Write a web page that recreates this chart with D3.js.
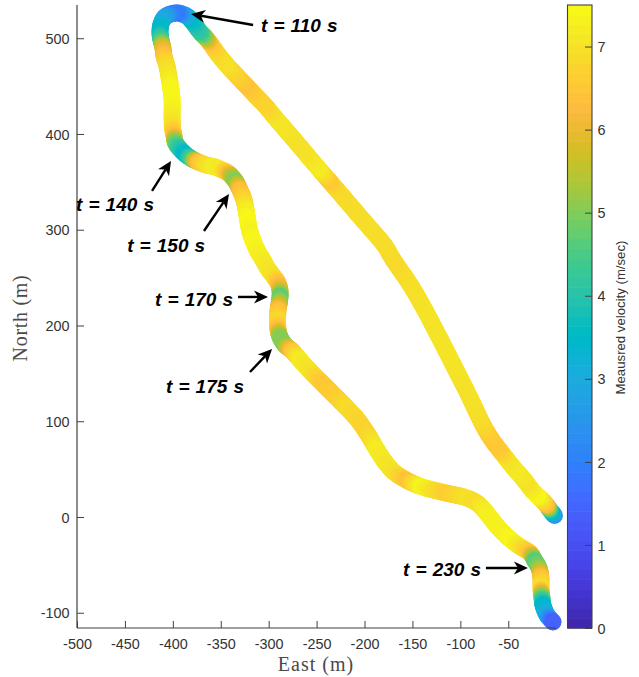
<!DOCTYPE html>
<html><head><meta charset="utf-8">
<script src="https://cdn.jsdelivr.net/npm/d3@7"></script>
<style>html,body{margin:0;padding:0;background:#fff}svg{display:block}</style>
</head><body><svg id="c" width="639" height="677"></svg>
<script>
const east=[-1.8,-6.5,-9.9,-15.9,-20.3,-26.3,-30.8,-37.8,-45.1,-53.4,-60.7,-67.0,-72.5,-76.9,-80.5,-89.9,-100.4,-111.8,-123.3,-134.8,-147.3,-157.7,-170.3,-178.6,-199.5,-218.3,-230.8,-238.1,-248.5,-265.2,-277.7,-293.4,-303.8,-314.3,-324.7,-335.1,-345.5,-353.9,-361.2,-366.4,-371.6,-376.9,-384.2,-390.4,-395.7,-401.9,-408.2,-412.4,-413.4,-412.4,-410.3,-409.2,-406.1,-404.0,-401.9,-400.8,-400.8,-400.3,-398.7,-397.2,-392.5,-386.2,-380.0,-373.7,-365.4,-356.0,-348.7,-342.4,-337.2,-334.1,-329.9,-325.7,-323.6,-321.6,-319.5,-315.3,-311.1,-305.9,-300.7,-294.4,-290.2,-288.2,-288.2,-289.2,-290.2,-290.8,-290.2,-288.2,-283.0,-275.6,-267.3,-254.8,-243.3,-228.7,-218.3,-207.8,-197.4,-186.9,-178.6,-168.2,-154.6,-140.0,-128.5,-112.9,-93.1,-82.6,-74.3,-68.0,-61.8,-53.4,-45.1,-35.7,-27.3,-22.1,-17.9,-15.9,-15.9,-14.8,-13.8,-9.6,-3.3];
const north=[1.6,7.3,12.5,18.8,23.0,29.2,35.5,43.9,52.2,62.7,72.1,80.4,89.1,97.1,104.4,124.3,145.2,167.6,190.1,212.0,234.5,250.7,268.9,283.0,307.6,329.5,344.1,352.5,364.5,384.3,399.0,417.2,429.8,440.7,451.7,462.7,474.1,484.6,495.0,501.3,506.5,513.8,522.2,525.3,526.4,525.3,522.2,514.9,505.5,498.2,489.8,481.5,471.0,459.5,446.0,435.5,417.8,406.3,397.9,390.6,384.3,378.1,373.9,370.8,367.6,365.5,362.4,359.3,354.1,349.9,341.5,331.1,320.6,308.1,297.7,286.2,276.8,268.4,259.0,250.7,244.4,237.1,229.8,222.5,216.2,203.7,195.3,188.0,179.6,173.4,164.0,150.4,138.9,124.3,113.8,102.4,87.7,70.0,57.4,46.0,37.6,31.3,28.2,24.5,19.8,14.6,6.3,-1.6,-9.4,-18.3,-25.6,-32.4,-37.6,-46.0,-53.3,-63.7,-74.2,-84.6,-91.9,-102.4,-109.7];
const speed=[2.4,4.0,6.2,7.0,7.45,7.2,7.0,7.1,7.15,7.0,6.55,6.5,6.6,6.8,6.9,7.0,7.0,7.05,7.05,7.05,7.0,6.95,6.85,6.9,6.95,6.9,6.85,6.5,7.2,7.0,7.0,7.1,6.75,6.7,6.4,6.7,7.0,6.9,6.5,5.3,4.3,3.9,3.4,2.6,1.9,2.0,2.7,3.2,3.6,4.3,5.8,6.4,6.9,7.1,7.4,7.4,7.2,6.9,6.3,4.9,4.1,3.4,4.5,6.3,6.9,7.2,7.1,6.4,5.3,5.0,6.3,6.7,7.2,7.45,7.3,7.4,7.3,7.2,7.1,7.0,6.5,5.9,4.6,5.4,6.3,6.9,6.3,5.1,5.0,6.4,7.2,7.0,6.5,6.6,6.9,6.8,6.7,7.2,7.1,7.0,6.4,7.4,7.0,6.6,7.0,6.9,7.2,7.3,7.3,7.3,7.4,7.0,6.5,4.6,5.0,6.4,7.0,4.8,3.5,3.1,1.4];

const xTicks=[-500,-450,-400,-350,-300,-250,-200,-150,-100,-50];
const yTicks=[-100,0,100,200,300,400,500];
const cTicks=[0,1,2,3,4,5,6,7];

const noteLabels=["t = 110 s","t = 140 s","t = 150 s","t = 170 s","t = 175 s","t = 230 s"];
const noteTextEast=[-308.0,-501.0,-447.6,-418.5,-407.1,-159.8];
const noteTextNorth=[506.5,319.6,276.8,220.4,129.5,-61.6];
const arrowTailEast=[-316.2,-421.7,-367.5,-332.0,-319.5,-73.3];
const arrowTailNorth=[513.8,340.5,298.7,229.8,151.4,-53.3];
const arrowTipEast=[-380.9,-401.9,-341.4,-300.7,-296.5,-29.5];
const arrowTipNorth=[525.3,371.8,337.3,229.8,175.5,-53.3];

const parula=[[.2422,.1504,.6603],[.2504,.1650,.7076],[.2578,.1818,.7511],[.2647,.1978,.7952],[.2706,.2147,.8364],[.2751,.2342,.8710],[.2783,.2559,.8991],[.2803,.2782,.9221],[.2813,.3006,.9414],[.2810,.3228,.9579],[.2795,.3447,.9717],[.2760,.3667,.9829],[.2699,.3892,.9906],[.2602,.4123,.9952],[.2440,.4358,.9988],[.2206,.4603,.9973],[.1963,.4847,.9892],[.1834,.5074,.9798],[.1786,.5289,.9682],[.1764,.5499,.9520],[.1687,.5703,.9359],[.1540,.5902,.9218],[.1460,.6091,.9079],[.1380,.6276,.8973],[.1248,.6459,.8883],[.1113,.6635,.8763],[.0952,.6798,.8598],[.0689,.6948,.8394],[.0297,.7082,.8163],[.0036,.7203,.7917],[.0067,.7312,.7660],[.0433,.7411,.7394],[.0964,.7500,.7120],[.1408,.7584,.6842],[.1717,.7670,.6554],[.1938,.7758,.6251],[.2161,.7843,.5923],[.2470,.7918,.5567],[.2906,.7973,.5188],[.3406,.8008,.4789],[.3909,.8029,.4354],[.4456,.8024,.3909],[.5044,.7993,.3480],[.5616,.7942,.3045],[.6174,.7876,.2612],[.6720,.7793,.2227],[.7242,.7698,.1910],[.7738,.7598,.1646],[.8203,.7498,.1535],[.8634,.7406,.1596],[.9035,.7330,.1774],[.9393,.7288,.2100],[.9728,.7298,.2394],[.9956,.7434,.2371],[.9970,.7659,.2199],[.9952,.7893,.2028],[.9892,.8136,.1885],[.9786,.8386,.1766],[.9676,.8639,.1643],[.9610,.8890,.1537],[.9597,.9135,.1423],[.9628,.9373,.1265],[.9691,.9606,.1064],[.9769,.9839,.0805]];

const AX="#404040", TXT="#333333", SERIF="#4a4a4a";
const svg=d3.select("#c");
const x=d3.scaleLinear().domain([-500,0]).range([77,556.2]);
const y=d3.scaleLinear().domain([-116,534.7]).range([628.07,5]);
const cMax=7.5;
const colorbarY=d3.scaleLinear().domain([0,cMax]).range([628,5]);
const color=d3.scaleLinear().domain(parula.map((_,i)=>i/63*cMax))
  .range(parula.map(c=>d3.rgb(c[0]*255,c[1]*255,c[2]*255))).interpolate(d3.interpolateRgb).clamp(true);

// track
const pts=east.map((e,i)=>[x(e),y(north[i])]);
const line=d3.line().curve(d3.curveCatmullRom.alpha(0.5));
const probe=svg.append("path").attr("fill","none").attr("d",line(pts));
const L=probe.node();
const total=L.getTotalLength();
const knotLen=pts.map((_,i)=>{
  if(i===0) return 0;
  probe.attr("d",line(pts.slice(0,i+1)));
  return L.getTotalLength();
});
probe.attr("d",line(pts));
const speedAt=d3.scaleLinear().domain(knotLen).range(speed);
const samples=d3.range(0,total,1.5).concat([total]);
svg.append("g").selectAll("circle").data(samples).join("circle")
  .attr("cx",s=>L.getPointAtLength(s).x)
  .attr("cy",s=>L.getPointAtLength(s).y)
  .attr("r",8.5)
  .attr("fill",s=>color(speedAt(s)));
probe.remove();

// axes
const tf="'Liberation Sans',Arial,sans-serif";
const xa=d3.axisBottom(x).tickValues(xTicks).tickSize(-7).tickPadding(0).tickFormat(d=>d);
const gx=svg.append("g").attr("transform","translate(0,628)").call(xa);
const ya=d3.axisLeft(y).tickValues(yTicks).tickSize(-7).tickFormat(d=>d);
const gy=svg.append("g").attr("transform","translate(77,0)").call(ya);
[gx,gy].forEach(g=>{
  g.select(".domain").attr("stroke",AX).attr("stroke-width",1.2);
  g.selectAll(".tick line").attr("stroke",AX).attr("stroke-width",1);
  g.selectAll("text").attr("font-family",tf).attr("font-size",14.4).attr("fill",TXT);
});
gx.select(".domain").attr("d","M77,0H556.2");
gy.select(".domain").attr("d","M0,5V628");
gx.selectAll("text").attr("y",21).attr("dy",0);
gy.selectAll("text").attr("x",-7.5).attr("dy","0.36em");

svg.append("text").text("East (m)").attr("x",316).attr("y",671).attr("text-anchor","middle")
  .attr("font-family","'Liberation Serif',serif").attr("font-size",20).attr("letter-spacing",1).attr("fill",SERIF);
svg.append("text").text("North (m)").attr("transform","translate(27,318) rotate(-90)").attr("text-anchor","middle")
  .attr("font-family","'Liberation Serif',serif").attr("font-size",20).attr("letter-spacing",0.7).attr("fill",SERIF);

// colorbar
const cbL=567.5, cbR=592;
const levels=d3.range(0,64);
svg.append("g").selectAll("rect").data(levels).join("rect")
  .attr("x",cbL).attr("width",cbR-cbL)
  .attr("y",i=>colorbarY((i+1)/64*cMax)).attr("height",i=>colorbarY(i/64*cMax)-colorbarY((i+1)/64*cMax)+0.6)
  .attr("fill",i=>color((i+0.5)/64*cMax));
svg.append("rect").attr("x",cbL).attr("y",5).attr("width",cbR-cbL).attr("height",623)
  .attr("fill","none").attr("stroke",AX).attr("stroke-width",1.1);
const ca=d3.axisRight(colorbarY).tickValues(cTicks).tickSize(-7).tickFormat(d=>d);
const gc=svg.append("g").attr("transform",`translate(${cbR},0)`).call(ca);
gc.select(".domain").remove();
gc.selectAll(".tick line").attr("stroke",AX).attr("stroke-width",1);
gc.selectAll("text").attr("x",5.5).attr("dy","0.36em").attr("font-family",tf).attr("font-size",14.4).attr("fill",TXT);
svg.append("text").text("Meausred velocity (m/sec)").attr("transform","translate(625,317.5) rotate(-90)")
  .attr("text-anchor","middle").attr("font-family",tf).attr("font-size",13.2).attr("fill",TXT);

// annotations
const notes=svg.append("g");
noteLabels.forEach((t,i)=>{
  notes.append("text").text(t).attr("x",x(noteTextEast[i])).attr("y",y(noteTextNorth[i]))
    .attr("font-family",tf).attr("font-size",19).attr("font-weight","bold").attr("font-style","italic")
    .attr("word-spacing",0.8).attr("fill","#000");
  const x0=x(arrowTailEast[i]),y0=y(arrowTailNorth[i]),x1=x(arrowTipEast[i]),y1=y(arrowTipNorth[i]);
  const a=Math.atan2(y1-y0,x1-x0),c=Math.cos(a),s=Math.sin(a);
  const hl=14,hw=6.5,nb=10;
  notes.append("line").attr("x1",x0).attr("y1",y0).attr("x2",x1-nb*c).attr("y2",y1-nb*s)
    .attr("stroke","#000").attr("stroke-width",2.4);
  const p=d3.path();
  p.moveTo(x1,y1);
  p.lineTo(x1-hl*c-hw*s,y1-hl*s+hw*c);
  p.lineTo(x1-nb*c,y1-nb*s);
  p.lineTo(x1-hl*c+hw*s,y1-hl*s-hw*c);
  p.closePath();
  notes.append("path").attr("d",p.toString()).attr("fill","#000");
});
</script></body></html>
